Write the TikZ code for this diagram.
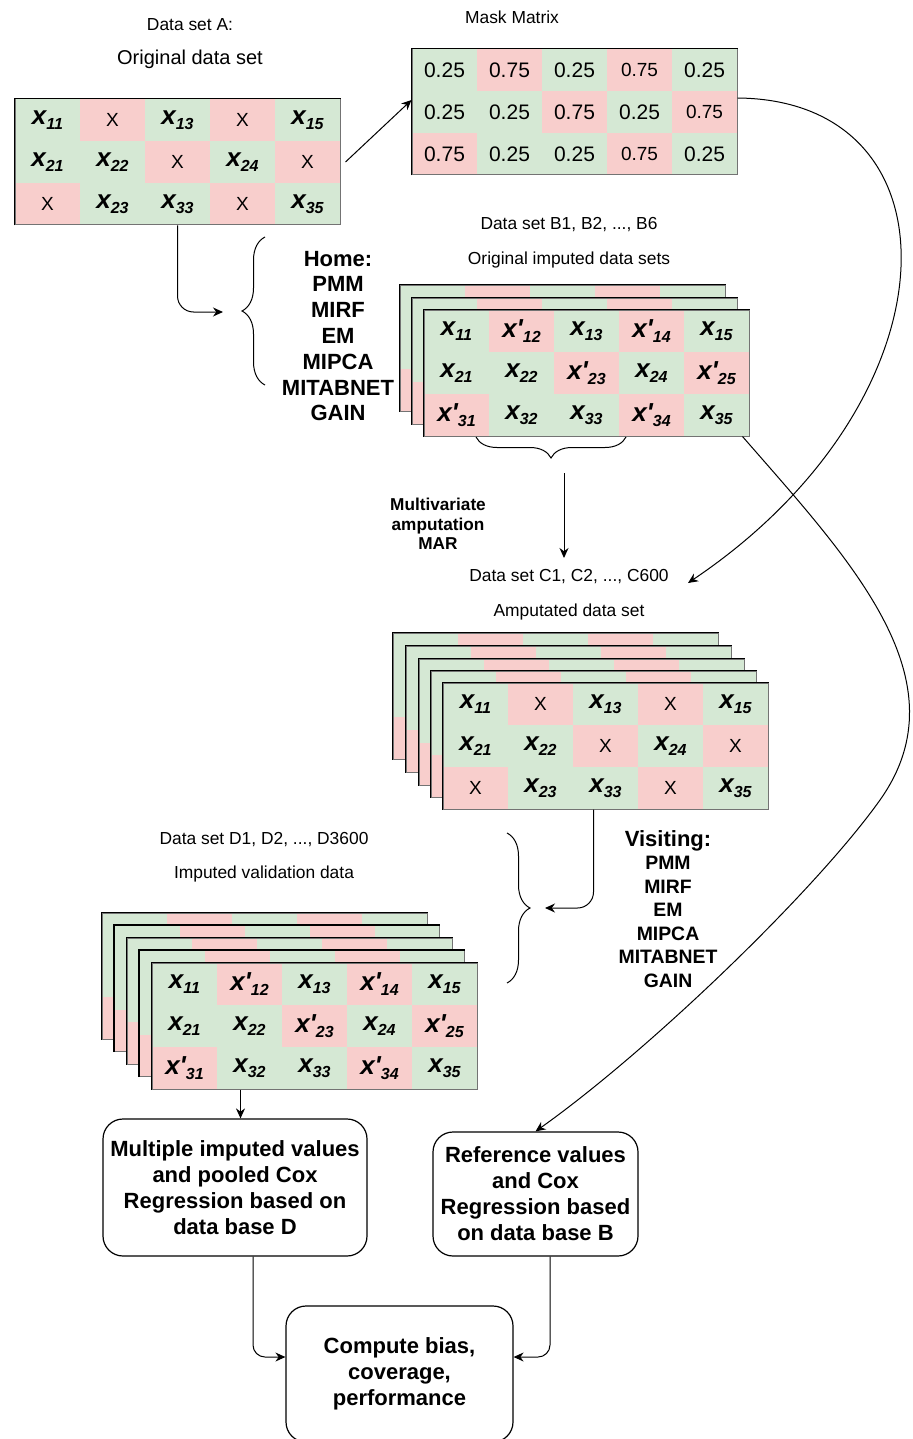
\documentclass[tikz,border=0pt]{standalone}
\usepackage{fontspec}
\setmainfont{Liberation Sans}
\usetikzlibrary{arrows.meta,decorations.pathreplacing}

\definecolor{cellg}{HTML}{D5E8D4}
\definecolor{cellr}{HTML}{F8CECC}

\newcommand{\xv}[1]{\textbf{\textit{\fontsize{13}{13}\selectfont x\raisebox{-2.5pt}{\fontsize{8}{8}\selectfont #1}}}}
\newcommand{\xp}[1]{\textbf{\textit{\fontsize{13}{13}\selectfont x\textquotesingle\raisebox{-2.5pt}{\fontsize{8}{8}\selectfont #1}}}}
\newcommand{\mv}[1]{{\fontsize{10.5}{11}\selectfont #1}}

\newcommand{\patA}{\xv{11}/g, X/r, \xv{13}/g, X/r, \xv{15}/g, \xv{21}/g, \xv{22}/g, X/r, \xv{24}/g, X/r, X/r, \xv{23}/g, \xv{33}/g, X/r, \xv{35}/g}
\newcommand{\patB}{\xv{11}/g, \xp{12}/r, \xv{13}/g, \xp{14}/r, \xv{15}/g, \xv{21}/g, \xv{22}/g, \xp{23}/r, \xv{24}/g, \xp{25}/r, \xp{31}/r, \xv{32}/g, \xv{33}/g, \xp{34}/r, \xv{35}/g}
\newcommand{\patM}{\mv{0.25}/g, \mv{0.75}/r, \mv{0.25}/g, 0.75/r, \mv{0.25}/g, \mv{0.25}/g, \mv{0.25}/g, \mv{0.75}/r, \mv{0.25}/g, 0.75/r, \mv{0.75}/r, \mv{0.25}/g, \mv{0.25}/g, 0.75/r, \mv{0.25}/g}
\newcommand{\blank}{/g, /r, /g, /r, /g, /g, /g, /r, /g, /r, /r, /g, /g, /r, /g}

\tikzset{
  cell/.style = {minimum width = 32.5pt, minimum height = 21pt, inner sep = 0pt, font = \fontsize{9.5}{10}\selectfont},
  frame/.style = {draw = black!55, line width = 0.5pt, minimum width = 162.5pt, minimum height = 63pt, inner sep = 0pt},
  rim/.style = {line width = 0.8pt},
  caption/.style = {inner sep = 0pt, font = \fontsize{8.7}{10}\selectfont},
  box/.style = {draw, rounded corners = 10pt, line width = 0.6pt, align = center, font = \bfseries\fontsize{11}{13}\selectfont},
  brc/.style = {decorate, decoration = {brace, amplitude = #1}, line width = 0.5pt}
}

% one 5x3 data table, top left corner at the scope origin
\newcommand{\gridcells}[2]{%
  \foreach \lab/\col [count=\i from 0] in #2 {%
    \pgfmathtruncatemacro{\cc}{mod(\i,5)}%
    \pgfmathtruncatemacro{\rr}{\i/5}%
    \node[cell, fill = cell\col] (#1-\i) at (\cc*65+32.5, \rr*42+21) {\lab};
  }%
  \node[frame] (#1) at (162.5,63) {};
  \draw[rim] (#1.south west) -- (#1.north west) -- (#1.north east);
}

\begin{document}
\begin{tikzpicture}[x = 0.5pt, y = -0.5pt, line width = 0.5pt, >={Stealth[length = 5pt, width = 4.5pt]}]
\useasboundingbox (0,0) rectangle (912,1439);

% original data set
\node[caption] (capA) at (190,25) {Data set A:};
\node[inner sep = 0pt, font = \fontsize{10}{12}\selectfont] (titleA) at (190,59) {Original data set};
\begin{scope}[shift = {(15,99)}]
\gridcells{A}{\patA}
\end{scope}

% mask matrix
\node[caption] (capM) at (512,17) {Mask Matrix};
\begin{scope}[shift = {(412,49)}]
\gridcells{M}{\patM}
\end{scope}

% imputed data sets B
\node[caption] (capB) at (569,225) {Data set B1, B2, ..., B6};
\node[caption] (titleB) at (569,260) {Original imputed data sets};
\foreach \sx/\sy [count=\k] in {400/285, 412/298} {
\begin{scope}[shift = {(\sx,\sy)}]
\gridcells{B\k}{\blank}
\end{scope}
}
\begin{scope}[shift = {(424,310)}]
\gridcells{Bf}{\patB}
\end{scope}

\node[align = center, font = \bfseries\fontsize{11}{12.9}\selectfont] (home) at (338,336) {Home:\\PMM\\MIRF\\EM\\MIPCA\\MITABNET\\GAIN};
\draw[brc = 11.5pt] (265,385) -- (265,237);
\draw[brc = 10.5pt] (626,437) -- (476,437);

% amputed data sets C
\node[align = center, font = \bfseries\fontsize{8.6}{9.75}\selectfont] (mar) at (438,524) {Multivariate\\amputation\\MAR};
\node[caption] (capC) at (569,577) {Data set C1, C2, ..., C600};
\node[caption] (titleC) at (569,612) {Amputated data set};
\foreach \sx/\sy [count=\k] in {393/633, 406/646, 419/659, 431/671} {
\begin{scope}[shift = {(\sx,\sy)}]
\gridcells{C\k}{\blank}
\end{scope}
}
\begin{scope}[shift = {(443,683)}]
\gridcells{Cf}{\patA}
\end{scope}

\node[align = center, font = \bfseries\fontsize{9.7}{11.75}\selectfont] (visit) at (668,909) {{\fontsize{11}{11.75}\selectfont Visiting:}\\PMM\\MIRF\\EM\\MIPCA\\MITABNET\\GAIN};
\draw[brc = 11.5pt] (507,833) -- (507,983);

% validation data D
\node[caption] (capD) at (264,840) {Data set D1, D2, ..., D3600};
\node[caption] (titleD) at (264,874) {Imputed validation data};
\foreach \sx/\sy [count=\k] in {102/913, 114.5/925.5, 127/938, 139.5/950.5} {
\begin{scope}[shift = {(\sx,\sy)}]
\gridcells{D\k}{\blank}
\end{scope}
}
\begin{scope}[shift = {(152,963)}]
\gridcells{Df}{\patB}
\end{scope}

% results
\node[box, minimum width = 132pt, minimum height = 68.5pt] (box1) at (235,1187.5) {Multiple imputed values\\and pooled Cox\\Regression based on\\data base D};
\node[box, minimum width = 102.5pt, minimum height = 62pt] (box2) at (535.5,1194) {Reference values\\and Cox\\Regression based\\on data base B};
\node[box, minimum width = 113.5pt, minimum height = 68pt] (box3) at (399.5,1374) {Compute bias,\\coverage,\\performance};

% connectors
\coordinate (homeIn) at (223,312);
\coordinate (bOut) at (564,473);
\coordinate (cIn) at (564,558);
\coordinate (cArr) at (688,583);
\coordinate (dIn) at (545,908);
\coordinate (dOut) at ([xshift = -37pt]Df.south);
\draw[->] ([xshift = 2.5pt]A.east) -- ([yshift = 6pt]M.west);
\draw[->, rounded corners = 8pt] (A.south) |- (homeIn);
\draw[->] (bOut) -- (cIn);
\draw[->] ([yshift = 7pt]M.east) .. controls (965,100) and (960,400) .. (cArr);
\draw[->] ([xshift = -3.5pt]Bf.south east) .. controls (850,560) and (965,680) .. (880,800) .. controls (816,890) and (650,1050) .. (box2.north);
\draw[->, rounded corners = 8pt] ([xshift = -6pt]Cf.south) |- (dIn);
\draw[->] (dOut) -- (dOut |- box1.north);
\draw[->, rounded corners = 6pt] ([xshift = 9pt]box1.south) |- ([yshift = 8.5pt]box3.west);
\draw[->, rounded corners = 6pt] ([xshift = 7.25pt]box2.south) |- ([yshift = 8.5pt]box3.east);
\end{tikzpicture}
\end{document}
